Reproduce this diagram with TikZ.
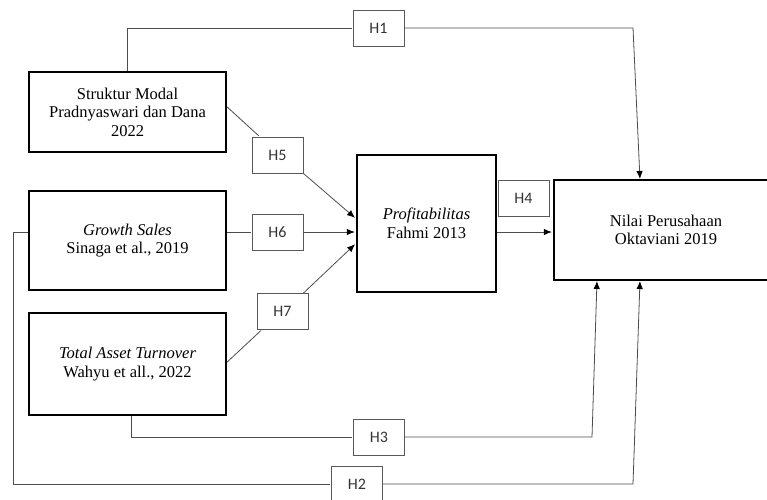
\documentclass[tikz,border=0pt]{standalone}
\usepackage{fontspec}
\setmainfont{Liberation Serif}
\newfontfamily\hfont{Carlito}
\usetikzlibrary{arrows.meta,positioning}

\tikzset{
  var/.style={draw, line width=2.4pt, align=center, inner sep=0pt,
    font=\fontsize{16.5}{18.5}\selectfont},
  hyp/.style={draw=black!65, line width=0.8pt, minimum width=51pt, minimum height=36pt,
    inner sep=0pt, font=\hfont\fontsize{16}{18}\selectfont, text=black!80},
  link/.style={draw=black!70, line width=0.8pt},
}

\begin{document}
\begin{tikzpicture}[x=1pt, y=-1pt, >={Latex[length=8pt,width=6.5pt,color=black]}, shorten >=1pt]
    \useasboundingbox (0,0) rectangle (767,499);

    % variables
    \node[var, minimum width=197pt, minimum height=80pt] (sm) at (127.5,112)
        {Struktur Modal\\Pradnyaswari dan Dana\\2022};
    \node[var, minimum width=197pt, minimum height=99pt] (gs) at (127.5,240.5)
        {\textit{Growth Sales}\\Sinaga et al., 2019};
    \node[var, minimum width=197pt, minimum height=102pt] (tat) at (127.5,364)
        {\textit{Total Asset Turnover}\\Wahyu et all., 2022};
    \node[var, minimum width=139pt, minimum height=137pt] (pr) at (426.5,223.5)
        {\textit{Profitabilitas}\\Fahmi 2013};
    \node[var, minimum width=224pt, minimum height=100pt] (nv) at (666,230)
        {Nilai Perusahaan\\Oktaviani 2019};

    % hypotheses
    \node[hyp] (h1) at (378.5,28) {H1};
    \node[hyp] (h5) at (277.5,155) {H5};
    \node[hyp] (h6) at (277.5,232) {H6};
    \node[hyp] (h7) at (282.5,311.5) {H7};
    \node[hyp] (h4) at (523.5,198) {H4};
    \node[hyp] (h3) at (379,437) {H3};
    \node[hyp] (h2) at (357,484) {H2};

    \coordinate (k1) at (633,28);
    \coordinate (e1) at (640,180);
    \coordinate (k3) at (592,437);
    \coordinate (e3) at (597,280);
    \coordinate (k2) at (633,484);
    \coordinate (e2) at (640,280);

    % connectors
    \draw[link] (sm.north) |- (h1.west);
    \draw[link,->] (h1.east) -- (k1) -- (e1);
    \draw[link] ([yshift=5pt]sm.east) -- ([xshift=8pt]h5.north west);
    \draw[link,->] (h5.south east) -- ([yshift=5pt]pr.west);
    \draw[link] (h6.west -| gs.east) -- (h6.west);
    \draw[link,->] (h6.east) -- (h6.east -| pr.west);
    \draw[link] ([yshift=2pt]tat.east) -- ([xshift=5pt]h7.south west);
    \draw[link,->] ([xshift=-5pt]h7.north east) -- ([yshift=-20pt]pr.west);
    \draw[link,->] (pr.east |- h6) -- (nv.west |- h6);
    \draw[link] ([xshift=4pt]tat.south) |- (h3.west);
    \draw[link,->] (h3.east) -- (k3) -- (e3);
    \draw[link] (gs.west |- h6) -- ++(-14,0) |- (h2.west);
    \draw[link,->] (h2.east) -- (k2) -- (e2);
\end{tikzpicture}
\end{document}
